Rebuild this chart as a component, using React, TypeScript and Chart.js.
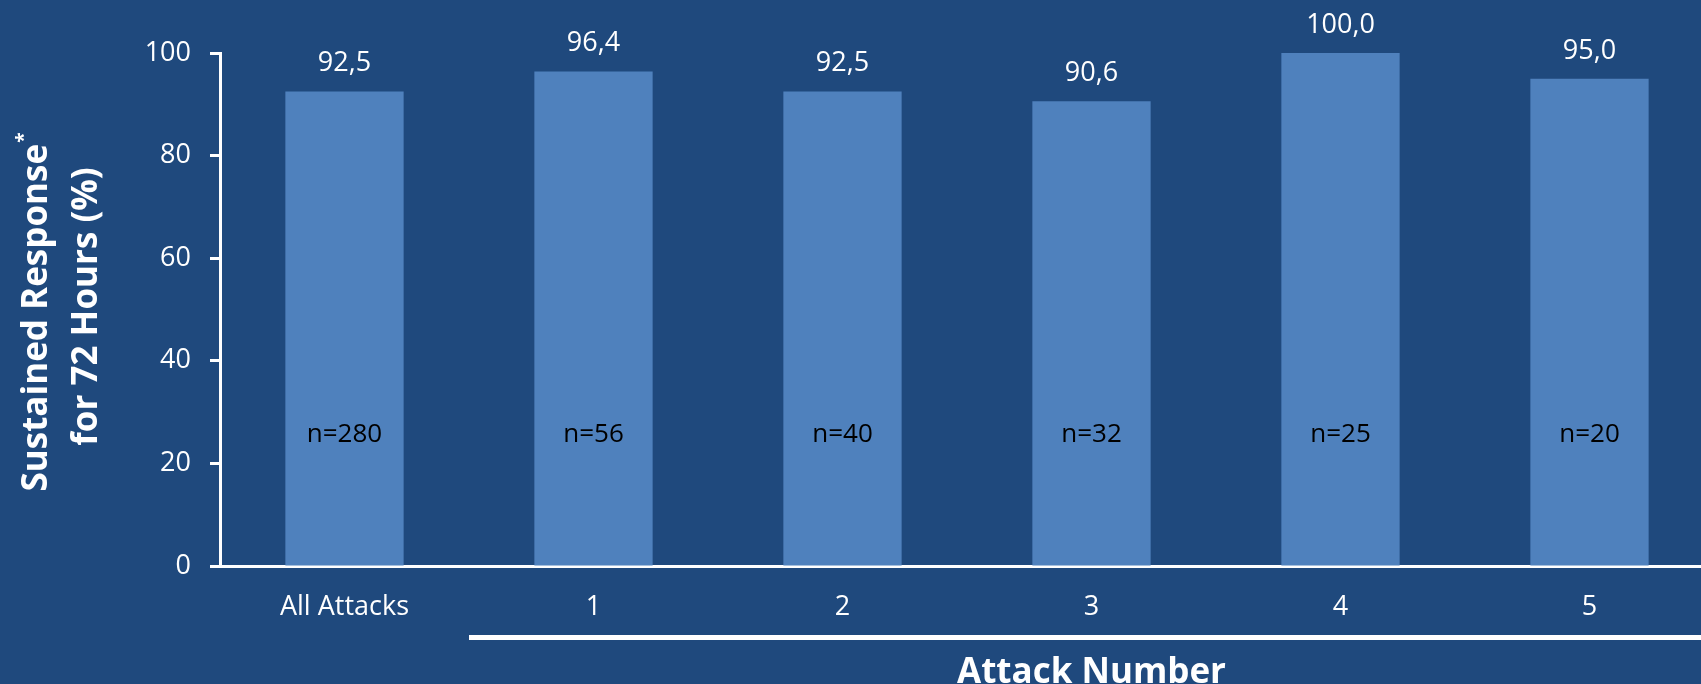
import React, { useEffect, useRef } from "react";
import { Chart, registerables } from "chart.js";

Chart.register(...registerables);

// Sustained response by attack number
const categories = ["All Attacks", "1", "2", "3", "4", "5"];
const responseRates = [92.5, 96.4, 92.5, 90.6, 100.0, 95.0];
const sampleSizes = ["n=280", "n=56", "n=40", "n=32", "n=25", "n=20"];
const yTicks = [0, 20, 40, 60, 80, 100];
const yTitleLines = ["Sustained Response", "for 72 Hours (%)"];
const yTitleMark = "*";
const xTitle = "Attack Number";

const BG = "#1F497D";
const BAR = "#4F81BD";
const WHITE = "#FFFFFF";
const FONT = "'Open Sans', sans-serif";
const SAMPLE_LEVEL = 26; // value on the y scale where the n= labels sit

const CANVAS_W = 1714;
const CANVAS_H = 684;

const formatRate = (v: number) => v.toFixed(1).replace(".", ",");

const annotations = {
  id: "annotations",
  afterDatasetsDraw(chart: any) {
    const { ctx, chartArea, scales } = chart;
    const x = scales.x;
    const y = scales.y;
    const meta = chart.getDatasetMeta(0);

    ctx.save();
    ctx.textAlign = "center";
    ctx.textBaseline = "alphabetic";

    meta.data.forEach((bar: any, i: number) => {
      // value above each bar
      ctx.font = `27px ${FONT}`;
      ctx.fillStyle = WHITE;
      ctx.fillText(formatRate(responseRates[i]), bar.x, bar.y - 20);
      // sample size inside each bar
      ctx.font = `26px ${FONT}`;
      ctx.fillStyle = "#000000";
      ctx.fillText(sampleSizes[i], bar.x, y.getPixelForValue(SAMPLE_LEVEL) + 9);
    });

    // line grouping the numbered attacks
    const lineY = chartArea.bottom + 71.5;
    ctx.strokeStyle = WHITE;
    ctx.lineWidth = 5;
    ctx.beginPath();
    ctx.moveTo(x.getPixelForValue(0.5), lineY);
    ctx.lineTo(chartArea.right, lineY);
    ctx.stroke();

    // x axis title, centred under attacks 1-5
    ctx.fillStyle = WHITE;
    ctx.font = `bold 35px ${FONT}`;
    const cx = (x.getPixelForValue(1) + x.getPixelForValue(5)) / 2;
    ctx.fillText(xTitle, cx, chart.height - 1);

    // rotated y axis title with a superscript mark
    const cy = (chartArea.top + chartArea.bottom) / 2;
    const mainFont = `bold 35px ${FONT}`;
    const markFont = `bold 19px ${FONT}`;

    ctx.save();
    ctx.translate(47, cy + 3);
    ctx.rotate(-Math.PI / 2);
    ctx.font = mainFont;
    const w1 = ctx.measureText(yTitleLines[0]).width;
    ctx.font = markFont;
    const wm = ctx.measureText(yTitleMark).width;
    const start = -(w1 + wm) / 2;
    ctx.textAlign = "left";
    ctx.font = mainFont;
    ctx.fillText(yTitleLines[0], start, 0);
    ctx.font = markFont;
    ctx.fillText(yTitleMark, start + w1 + 1, -17);
    ctx.restore();

    ctx.save();
    ctx.translate(97, cy - 3);
    ctx.rotate(-Math.PI / 2);
    ctx.font = mainFont;
    ctx.textAlign = "center";
    ctx.fillText(yTitleLines[1], 0, 0);
    ctx.restore();

    ctx.restore();
  },
};

export default function App() {
  const canvasRef = useRef<HTMLCanvasElement | null>(null);

  useEffect(() => {
    if (!canvasRef.current) return;
    const chart = new Chart(canvasRef.current, {
      type: "bar",
      data: {
        labels: categories,
        datasets: [
          {
            data: responseRates,
            backgroundColor: BAR,
            borderWidth: 0,
            barPercentage: 0.475,
            categoryPercentage: 1,
          },
        ],
      },
      options: {
        animation: false,
        responsive: false,
        devicePixelRatio: 1,
        layout: { padding: { top: 53, left: 0, right: 0, bottom: 0 } },
        plugins: {
          legend: { display: false },
          tooltip: { enabled: false },
        },
        scales: {
          x: {
            type: "category",
            grid: { display: false, drawTicks: false },
            border: { display: true, color: WHITE, width: 3 },
            ticks: {
              color: WHITE,
              font: { family: FONT, size: 27 },
              padding: 25,
              maxRotation: 0,
            },
            afterFit(scale: any) {
              scale.height = 118;
            },
          },
          y: {
            min: 0,
            max: 100,
            afterBuildTicks(scale: any) {
              scale.ticks = yTicks.map((v) => ({ value: v }));
            },
            ticks: {
              color: WHITE,
              font: { family: FONT, size: 27 },
              padding: 19,
            },
            grid: {
              drawOnChartArea: false,
              drawTicks: true,
              tickLength: 10,
              tickWidth: 3,
              tickColor: WHITE,
              color: WHITE,
            },
            border: { display: true, color: WHITE, width: 3 },
            afterFit(scale: any) {
              scale.width = 220;
            },
          },
        },
      },
      plugins: [annotations],
    });
    return () => chart.destroy();
  }, []);

  return (
    <div
      style={{
        position: "absolute",
        left: 0,
        top: 0,
        width: 1701,
        height: 684,
        overflow: "hidden",
        background: BG,
      }}
    >
      <canvas
        ref={canvasRef}
        width={CANVAS_W}
        height={CANVAS_H}
        style={{ display: "block", width: CANVAS_W, height: CANVAS_H }}
      />
    </div>
  );
}
